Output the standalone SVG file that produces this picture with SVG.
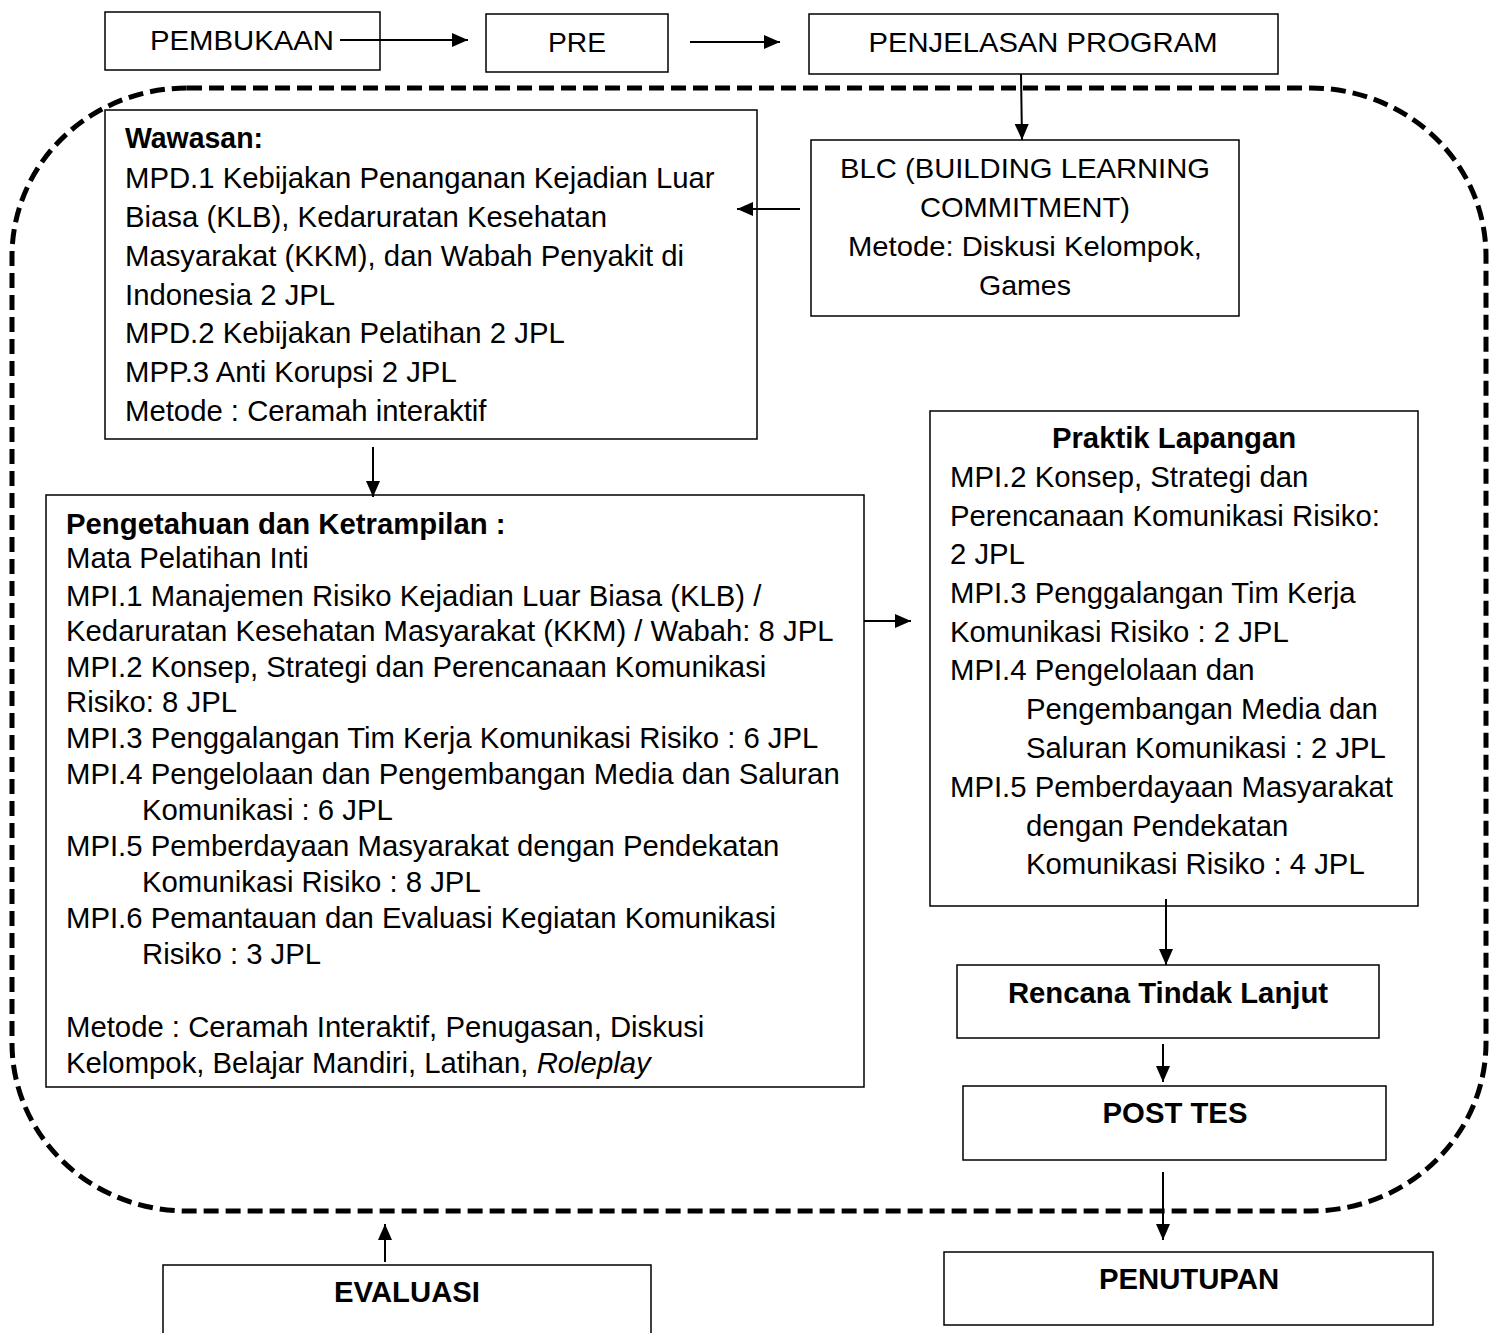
<svg xmlns="http://www.w3.org/2000/svg" width="1489" height="1333" viewBox="0 0 1489 1333">
<defs>
<marker id="ah" markerUnits="userSpaceOnUse" markerWidth="16" markerHeight="14" refX="16" refY="7" orient="auto"><path d="M0,0 L16,7 L0,14 Z" fill="#000"/></marker>
<style>
.box{fill:#fff;stroke:#000;stroke-width:1.5}
.t{font-family:"Liberation Sans",Arial,sans-serif;font-size:29.3px;fill:#000}
.c{text-anchor:middle}
.b{font-weight:bold}
.n{font-family:"Liberation Sans",Arial,sans-serif;font-size:28px;fill:#000}
.conn line{stroke:#000;stroke-width:2;marker-end:url(#ah)}
</style>
</defs>
<rect width="1489" height="1333" fill="#fff"/>
<rect id="boundary" x="12" y="88" width="1474" height="1123" rx="175" ry="168" fill="none" stroke="#000" stroke-width="5" stroke-dasharray="15 7"/>
<g id="pembukaan"><rect class="box" x="105" y="12" width="275" height="58"/><text class="n c" x="242" y="50" textLength="184" lengthAdjust="spacingAndGlyphs">PEMBUKAAN</text></g>
<g id="pre"><rect class="box" x="486" y="14" width="182" height="58"/><text class="n c" x="577" y="52" textLength="58" lengthAdjust="spacingAndGlyphs">PRE</text></g>
<g id="penjelasan"><rect class="box" x="809" y="14" width="469" height="60"/><text class="n c" x="1043" y="52" textLength="349" lengthAdjust="spacingAndGlyphs">PENJELASAN PROGRAM</text></g>
<g id="blc"><rect class="box" x="811" y="140" width="428" height="176"/>
<text class="n c" x="1025" y="178" textLength="370" lengthAdjust="spacingAndGlyphs">BLC (BUILDING LEARNING</text>
<text class="n c" x="1025" y="217" textLength="210" lengthAdjust="spacingAndGlyphs">COMMITMENT)</text>
<text class="n c" x="1025" y="256" textLength="354" lengthAdjust="spacingAndGlyphs">Metode: Diskusi Kelompok,</text>
<text class="n c" x="1025" y="295" textLength="92" lengthAdjust="spacingAndGlyphs">Games</text></g>
<g id="wawasan"><rect class="box" x="105" y="110" width="652" height="329"/>
<text class="t b" x="125" y="148" textLength="138" lengthAdjust="spacingAndGlyphs">Wawasan:</text>
<text class="t" x="125" y="188">MPD.1 Kebijakan Penanganan Kejadian Luar</text>
<text class="t" x="125" y="227">Biasa (KLB), Kedaruratan Kesehatan</text>
<text class="t" x="125" y="266">Masyarakat (KKM), dan Wabah Penyakit di</text>
<text class="t" x="125" y="305">Indonesia 2 JPL</text>
<text class="t" x="125" y="343">MPD.2 Kebijakan Pelatihan 2 JPL</text>
<text class="t" x="125" y="382">MPP.3 Anti Korupsi 2 JPL</text>
<text class="t" x="125" y="421">Metode : Ceramah interaktif</text></g>
<g id="pengetahuan"><rect class="box" x="46" y="495" width="818" height="592"/>
<text class="t b" x="66" y="534">Pengetahuan dan Ketrampilan :</text>
<text class="t" x="66" y="568">Mata Pelatihan Inti</text>
<text class="t" x="66" y="606">MPI.1 Manajemen Risiko Kejadian Luar Biasa (KLB) /</text>
<text class="t" x="66" y="641">Kedaruratan Kesehatan Masyarakat (KKM) / Wabah: 8 JPL</text>
<text class="t" x="66" y="677">MPI.2 Konsep, Strategi dan Perencanaan Komunikasi</text>
<text class="t" x="66" y="712">Risiko: 8 JPL</text>
<text class="t" x="66" y="748">MPI.3 Penggalangan Tim Kerja Komunikasi Risiko : 6 JPL</text>
<text class="t" x="66" y="784">MPI.4 Pengelolaan dan Pengembangan Media dan Saluran</text>
<text class="t" x="142" y="820">Komunikasi : 6 JPL</text>
<text class="t" x="66" y="856">MPI.5 Pemberdayaan Masyarakat dengan Pendekatan</text>
<text class="t" x="142" y="892">Komunikasi Risiko : 8 JPL</text>
<text class="t" x="66" y="928">MPI.6 Pemantauan dan Evaluasi Kegiatan Komunikasi</text>
<text class="t" x="142" y="964">Risiko : 3 JPL</text>
<text class="t" x="66" y="1037">Metode : Ceramah Interaktif, Penugasan, Diskusi</text>
<text class="t" x="66" y="1073">Kelompok, Belajar Mandiri, Latihan, <tspan font-style="italic">Roleplay</tspan></text></g>
<g id="praktik"><rect class="box" x="930" y="411" width="488" height="495"/>
<text class="t b c" x="1174" y="448">Praktik Lapangan</text>
<text class="t" x="950" y="487">MPI.2 Konsep, Strategi dan</text>
<text class="t" x="950" y="526">Perencanaan Komunikasi Risiko:</text>
<text class="t" x="950" y="564">2 JPL</text>
<text class="t" x="950" y="603">MPI.3 Penggalangan Tim Kerja</text>
<text class="t" x="950" y="642">Komunikasi Risiko : 2 JPL</text>
<text class="t" x="950" y="680">MPI.4 Pengelolaan dan</text>
<text class="t" x="1026" y="719">Pengembangan Media dan</text>
<text class="t" x="1026" y="758">Saluran Komunikasi : 2 JPL</text>
<text class="t" x="950" y="797">MPI.5 Pemberdayaan Masyarakat</text>
<text class="t" x="1026" y="836">dengan Pendekatan</text>
<text class="t" x="1026" y="874">Komunikasi Risiko : 4 JPL</text></g>
<g id="rtl"><rect class="box" x="957" y="965" width="422" height="73"/><text class="t b c" x="1168" y="1003">Rencana Tindak Lanjut</text></g>
<g id="posttes"><rect class="box" x="963" y="1086" width="423" height="74"/><text class="t b c" x="1175" y="1123">POST TES</text></g>
<g id="penutupan"><rect class="box" x="944" y="1252" width="489" height="73"/><text class="t b c" x="1189" y="1289">PENUTUPAN</text></g>
<g id="evaluasi"><rect class="box" x="163" y="1265" width="488" height="80"/><text class="t b c" x="407" y="1302">EVALUASI</text></g>
<g class="conn" id="connectors">
<line x1="340" y1="40" x2="468" y2="40"/>
<line x1="690" y1="42" x2="780" y2="42"/>
<line x1="1021" y1="74" x2="1022" y2="140"/>
<line x1="800" y1="209" x2="737" y2="209"/>
<line x1="373" y1="447" x2="373" y2="497"/>
<line x1="864" y1="621" x2="911" y2="621"/>
<line x1="1166" y1="899" x2="1166" y2="965"/>
<line x1="1163" y1="1044" x2="1163" y2="1082"/>
<line x1="1163" y1="1172" x2="1163" y2="1240"/>
<line x1="385" y1="1262" x2="385" y2="1224"/>
</g>
</svg>
